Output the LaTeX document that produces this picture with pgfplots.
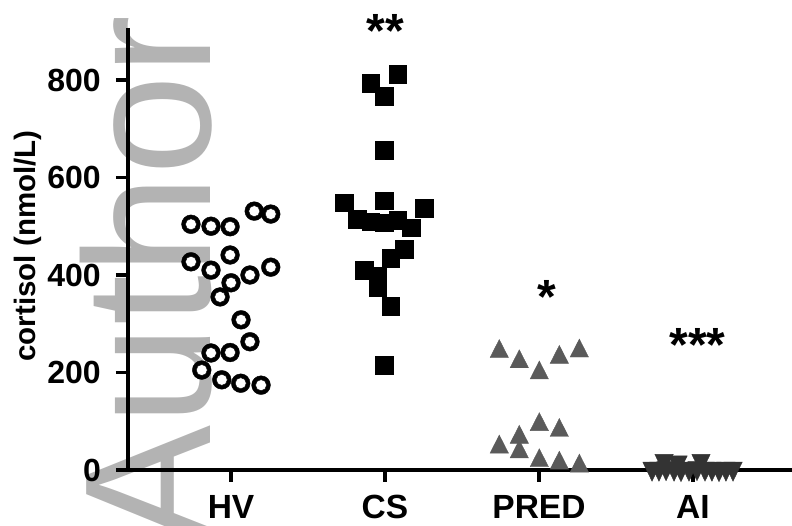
\documentclass[border=0pt]{standalone}
\usepackage{fontspec}
\setmainfont{Liberation Sans}
\usepackage{pgfplots}
\pgfplotsset{compat=1.18}
\definecolor{wm}{HTML}{B3B3B3}
\definecolor{predc}{HTML}{5A5A5A}
\definecolor{aic}{HTML}{333333}
\pgfplotstableread{
x y
1.151 531
1.258 525
0.740 504
0.870 500
0.994 499
0.740 427
0.994 441
0.870 410
1.123 400
1.258 416
1.000 384
0.929 355
1.065 308
1.123 263
0.994 241
0.870 240
0.810 205
0.940 185
1.063 178
1.195 174
}\hvdata
\begin{document}
\begin{tikzpicture}[x=1pt,y=1pt]
\useasboundingbox (0,0) rectangle (792,526);
\node[rotate=90, anchor=base east, inner sep=0pt, text=wm, font=\fontsize{180}{180}\selectfont] at (210,511) {Author};
\begin{axis}[
  at={(128pt,56pt)}, anchor=south west,
  scale only axis, width=664pt, height=442pt,
  xmin=0.331, xmax=4.643, ymin=0, ymax=906.7,
  clip=false,
  axis x line*=bottom, axis y line*=left,
  axis line style={-, line width=3.3pt, black},
  xtick={1,2,3,4}, xticklabels={HV,CS,PRED,AI},
  ytick={0,200,400,600,800},
  tick align=outside, major tick length=12pt,
  tick style={line width=3.3pt, black},
  /pgf/number format/assume math mode=true,
  xticklabel style={font=\fontsize{33.5}{33.5}\selectfont\bfseries, anchor=base, inner sep=0pt, yshift=-37pt},
  yticklabel style={font=\fontsize{32}{32}\selectfont\bfseries, anchor=east, inner sep=0pt, xshift=-15pt},
  ylabel={cortisol (nmol/L)},
  ylabel style={font=\fontsize{29.5}{29.5}\selectfont\bfseries, at={(axis description cs:-0.1514,0.507)}, anchor=center},
]
\addplot[only marks, mark=*, mark size=9.4pt, mark options={fill=black, draw=none}] table {\hvdata};
\addplot[only marks, mark=*, mark size=5.5pt, mark options={fill=white, draw=none}] table {\hvdata};
\addplot[only marks, mark=square*, mark size=8.8pt, mark options={fill=black, draw=black, line width=0.4pt}] coordinates {
(2.082,812) (1.907,793) (1.994,767) (1.994,656) (1.734,548) (1.994,552) (2.255,537) (1.820,514) (1.907,509) (1.994,507) (2.082,513) (2.169,497) (2.123,453) (2.037,434) (1.864,410) (1.953,397) (1.953,375) (2.037,336) (1.994,215)
};
\addplot[only marks, mark=triangle*, mark size=10.6pt, mark options={fill=predc, draw=predc, line width=0.4pt, yscale=1.13}] coordinates {
(2.742,243) (2.872,222) (3.002,199) (3.132,231) (3.262,244) (3.002,93) (3.132,81) (2.872,67) (2.742,47) (2.872,37) (3.002,19) (3.132,14) (3.262,8)
};
\addplot[only marks, mark=triangle*, mark size=10.6pt, mark options={fill=aic, draw=aic, line width=0.4pt, yscale=1.2, rotate=180}] coordinates {
(3.812,19) (3.903,16) (4.052,19)
(3.734,3) (3.779,3) (3.825,4) (3.877,3) (3.922,2) (3.974,3) (4.026,4) (4.078,3) (4.123,3) (4.169,2) (4.214,3) (4.260,3)
};
\node[font=\fontsize{48}{48}\selectfont\bfseries, anchor=base, inner sep=0pt] at (axis cs:2.0,866) {**};
\node[font=\fontsize{48}{48}\selectfont\bfseries, anchor=base, inner sep=0pt] at (axis cs:3.052,322) {*};
\node[font=\fontsize{48}{48}\selectfont\bfseries, anchor=base, inner sep=0pt] at (axis cs:4.03,222) {***};
\end{axis}
\end{tikzpicture}
\end{document}
